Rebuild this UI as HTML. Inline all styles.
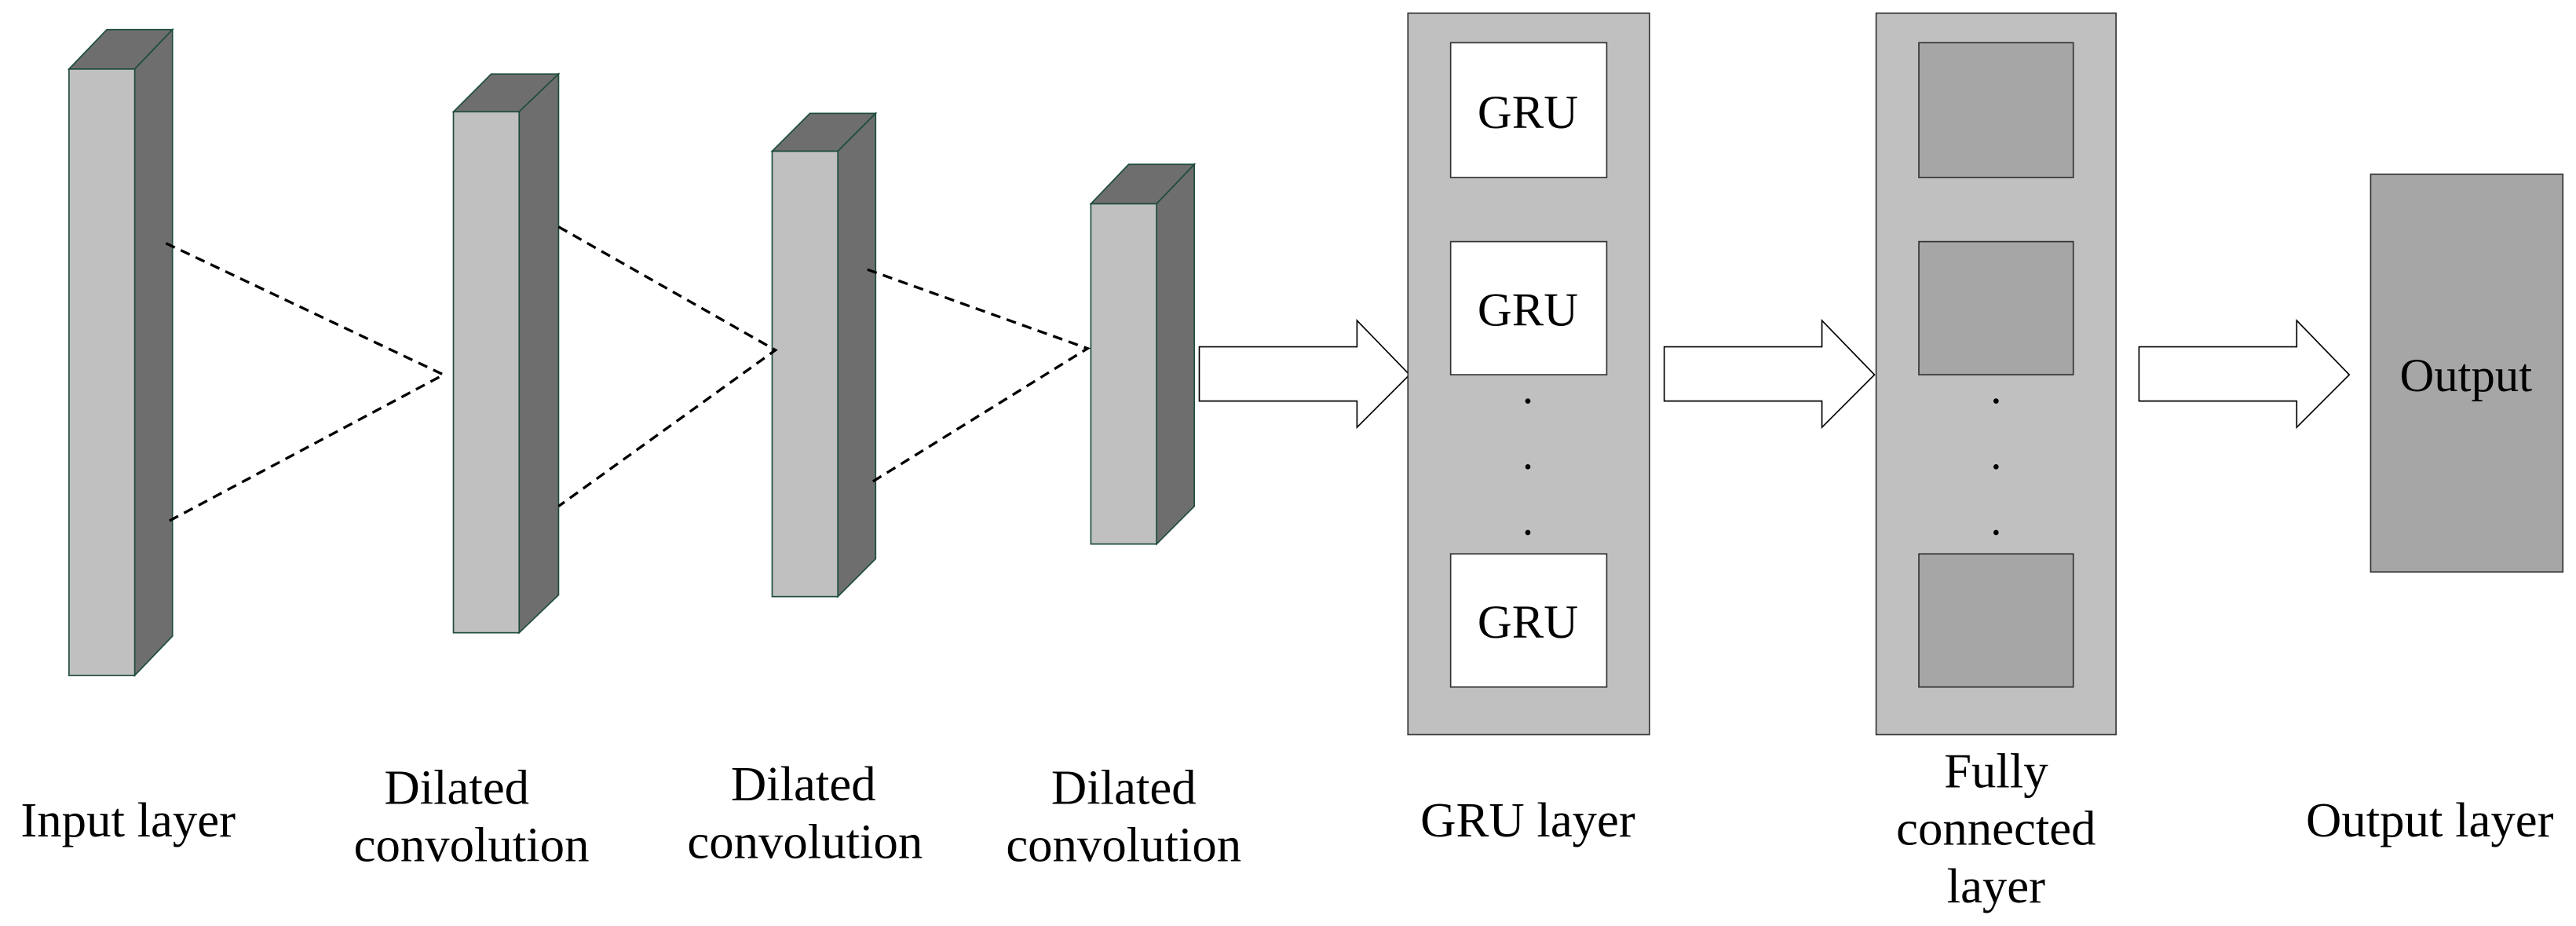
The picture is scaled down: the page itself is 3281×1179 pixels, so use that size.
<!DOCTYPE html>
<html><head><meta charset="utf-8"><style>
html,body{margin:0;padding:0;background:#fff;}
svg{display:block;}
text{font-family:"Liberation Serif",serif;fill:#000;}
</style></head><body>
<svg width="3281" height="1179" viewBox="0 0 1568 563.4" preserveAspectRatio="none" xmlns="http://www.w3.org/2000/svg">
<g stroke="#1d4d3a" stroke-width="0.8">
<polygon points="42,42 65,18 105,18 82,42" fill="#6e6e6e"/>
<polygon points="82,42 105,18 105,387 82,411" fill="#6e6e6e"/>
<rect x="42" y="42" width="40" height="369" fill="#c0c0c0"/>
<polygon points="276,68 299,45 340,45 316,68" fill="#6e6e6e"/>
<polygon points="316,68 340,45 340,362 316,385" fill="#6e6e6e"/>
<rect x="276" y="68" width="40" height="317" fill="#c0c0c0"/>
<polygon points="470,92 493,69 533,69 510,92" fill="#6e6e6e"/>
<polygon points="510,92 533,69 533,340 510,363" fill="#6e6e6e"/>
<rect x="470" y="92" width="40" height="271" fill="#c0c0c0"/>
<polygon points="664,124 687,100 727,100 704,124" fill="#6e6e6e"/>
<polygon points="704,124 727,100 727,308 704,331" fill="#6e6e6e"/>
<rect x="664" y="124" width="40" height="207" fill="#c0c0c0"/>
</g>
<g stroke="#000" stroke-width="1.6" stroke-dasharray="6,4" fill="none">
<polyline points="101,148 270,228 101,318"/>
<polyline points="340,138 472,213 340,308"/>
<polyline points="528,164 662,212 528,295"/>
</g>
<g fill="#fff" stroke="#000" stroke-width="0.8">
<polygon points="730,211 826,211 826,195 858,228 826,260 826,244 730,244"/>
<polygon points="1013,211 1109,211 1109,195 1141,228 1109,260 1109,244 1013,244"/>
<polygon points="1302,211 1398,211 1398,195 1430,228 1398,260 1398,244 1302,244"/>
</g>
<rect x="857" y="8" width="147" height="439" fill="#c0c0c0" stroke="#333" stroke-width="0.8"/>
<rect x="1142" y="8" width="146" height="439" fill="#c0c0c0" stroke="#333" stroke-width="0.8"/>
<g fill="#fff" stroke="#333" stroke-width="0.8">
<rect x="883" y="26" width="95" height="82"/>
<rect x="883" y="147" width="95" height="81"/>
<rect x="883" y="337" width="95" height="81"/>
</g>
<g fill="#a6a6a6" stroke="#333" stroke-width="0.8">
<rect x="1168" y="26" width="94" height="82"/>
<rect x="1168" y="147" width="94" height="81"/>
<rect x="1168" y="337" width="94" height="81"/>
<rect x="1443" y="106" width="117" height="242"/>
</g>
<g fill="#000">
<circle cx="930" cy="244" r="1.6"/><circle cx="930" cy="284" r="1.6"/><circle cx="930" cy="324" r="1.6"/>
<circle cx="1215" cy="244" r="1.6"/><circle cx="1215" cy="284" r="1.6"/><circle cx="1215" cy="324" r="1.6"/>
</g>
<g font-size="29" text-anchor="middle">
<text x="930" y="78">GRU</text>
<text x="930" y="198">GRU</text>
<text x="930" y="388">GRU</text>
<text x="1501" y="238">Output</text>
</g>
<g font-size="30" text-anchor="middle">
<text x="78" y="509">Input layer</text>
<text x="278" y="489">Dilated</text>
<text x="287" y="524">convolution</text>
<text x="489" y="487">Dilated</text>
<text x="490" y="522">convolution</text>
<text x="684" y="489">Dilated</text>
<text x="684" y="524">convolution</text>
<text x="930" y="509">GRU layer</text>
<text x="1215" y="479">Fully</text>
<text x="1215" y="514">connected</text>
<text x="1215" y="549">layer</text>
<text x="1479" y="509">Output layer</text>
</g>
</svg>
</body></html>
